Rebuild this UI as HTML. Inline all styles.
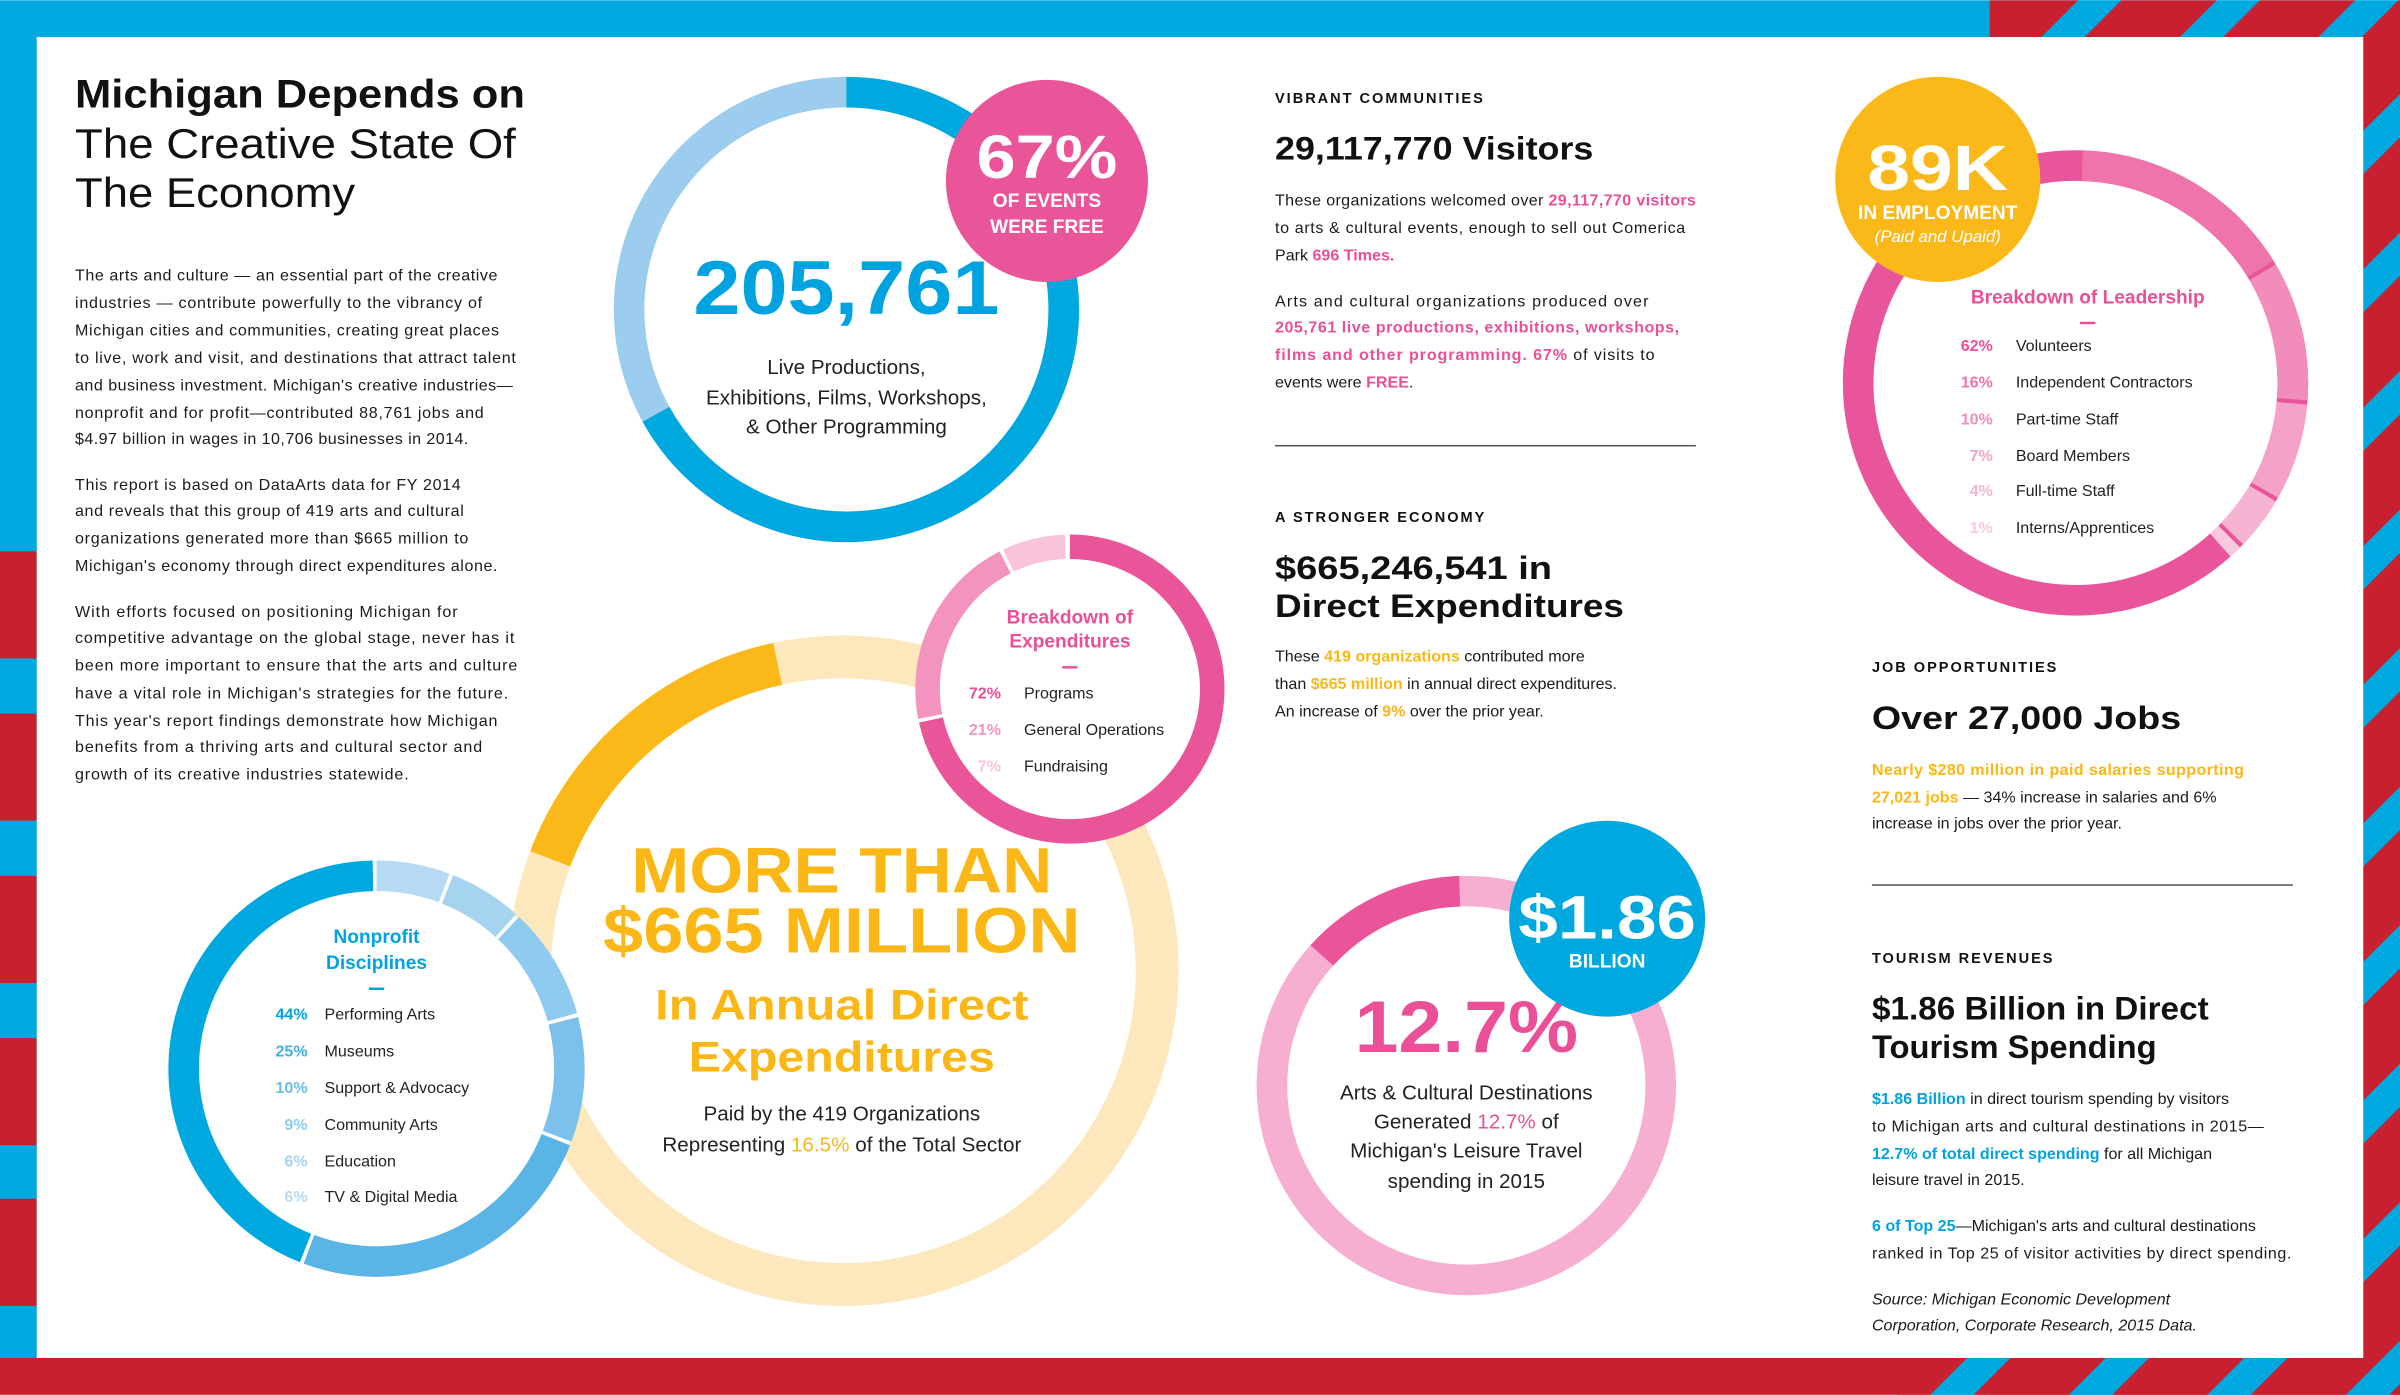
<!DOCTYPE html>
<html><head><meta charset="utf-8"><style>
html,body{margin:0;padding:0;background:#fff;}
svg{display:block}
text{font-family:"Liberation Sans",sans-serif;}
.b{font-weight:bold}
.p{font-size:10.5px;fill:#1a1a1a}
.pk{fill:#ea4f98;font-weight:bold}
.yl{fill:#fbb715;font-weight:bold}
.bl{fill:#00a3e0;font-weight:bold}
.h{font-size:9.5px;font-weight:bold;letter-spacing:1.3px;fill:#111}
.big{font-size:21px;font-weight:bold;fill:#111}
.row{font-size:10.5px;fill:#222}
</style></head><body>
<svg width="2400" height="1395" viewBox="0 0 1568 911" xmlns="http://www.w3.org/2000/svg">
<defs>
<pattern id="st" patternUnits="userSpaceOnUse" width="64" height="64" patternTransform="rotate(45)">
<rect width="64" height="64" fill="#c8202e"/><rect width="20" height="64" fill="#00a8e0"/>
</pattern>
</defs>
<rect width="1568" height="911" fill="#00a8e0"/>
<rect x="1300" y="0" width="268" height="911" fill="url(#st)"/>
<rect x="0" y="887" width="1568" height="24" fill="#c8202e"/>
<rect x="1240" y="887" width="328" height="24" fill="url(#st)"/>
<g fill="#c8202e">
<rect x="0" y="360" width="24" height="70"/><rect x="0" y="466" width="24" height="70"/>
<rect x="0" y="572" width="24" height="70"/><rect x="0" y="678" width="24" height="70"/>
<rect x="0" y="783" width="24" height="70"/>
</g>
<rect x="24" y="24" width="1520" height="863" fill="#fff"/>

<text x="49" y="70" class="b" font-size="26" fill="#111" textLength="294" lengthAdjust="spacingAndGlyphs">Michigan Depends on</text>
<text x="49" y="103" font-size="27" fill="#111" textLength="288" lengthAdjust="spacingAndGlyphs">The Creative State Of</text>
<text x="49" y="135" font-size="27" fill="#111" textLength="183" lengthAdjust="spacingAndGlyphs">The Economy</text>

<g class="p">
<text x="49" y="183" textLength="276">The arts and culture — an essential part of the creative</text>
<text x="49" y="201" textLength="266">industries — contribute powerfully to the vibrancy of</text>
<text x="49" y="219" textLength="277">Michigan cities and communities, creating great places</text>
<text x="49" y="237" textLength="288">to live, work and visit, and destinations that attract talent</text>
<text x="49" y="255" textLength="286">and business investment. Michigan's creative industries—</text>
<text x="49" y="273" textLength="267">nonprofit and for profit—contributed 88,761 jobs and</text>
<text x="49" y="290" textLength="257">$4.97 billion in wages in 10,706 businesses in 2014.</text>
<text x="49" y="320" textLength="252">This report is based on DataArts data for FY 2014</text>
<text x="49" y="337" textLength="254">and reveals that this group of 419 arts and cultural</text>
<text x="49" y="355" textLength="257">organizations generated more than $665 million to</text>
<text x="49" y="373" textLength="276">Michigan's economy through direct expenditures alone.</text>
<text x="49" y="403" textLength="250">With efforts focused on positioning Michigan for</text>
<text x="49" y="420" textLength="287">competitive advantage on the global stage, never has it</text>
<text x="49" y="438" textLength="289">been more important to ensure that the arts and culture</text>
<text x="49" y="456" textLength="283">have a vital role in Michigan's strategies for the future.</text>
<text x="49" y="474" textLength="276">This year's report findings demonstrate how Michigan</text>
<text x="49" y="491" textLength="266">benefits from a thriving arts and cultural sector and</text>
<text x="49" y="509" textLength="218">growth of its creative industries statewide.</text>
</g>

<g fill="none" stroke-width="20" transform="rotate(-90 553 202)">
<circle cx="553" cy="202" r="142" stroke="#9ccdee"/>
<circle cx="553" cy="202" r="142" stroke="#00a8e0" pathLength="100" stroke-dasharray="67 100"/>
</g>
<text x="553" y="205" text-anchor="middle" class="bl" font-size="50" textLength="200" lengthAdjust="spacingAndGlyphs">205,761</text>
<g font-size="13.5" fill="#222" text-anchor="middle">
<text x="553" y="244">Live Productions,</text>
<text x="553" y="264">Exhibitions, Films, Workshops,</text>
<text x="553" y="283">&amp; Other Programming</text>
</g>
<circle cx="684" cy="118" r="66" fill="#ea559a"/>
<text x="684" y="116" text-anchor="middle" class="b" font-size="40" fill="#fff" textLength="92" lengthAdjust="spacingAndGlyphs">67%</text>
<text x="684" y="135" text-anchor="middle" class="b" font-size="12.5" fill="#fff">OF EVENTS</text>
<text x="684" y="152" text-anchor="middle" class="b" font-size="12.5" fill="#fff">WERE FREE</text>

<g fill="none" stroke-width="28" transform="rotate(-90 551 634)">
<circle cx="551" cy="634" r="205" stroke="#fde7bd"/>
<circle cx="551" cy="634" r="205" stroke="#fbb919" pathLength="360" stroke-dasharray="57 360" stroke-dashoffset="-291"/>
</g>
<text x="550" y="583" text-anchor="middle" class="yl" font-size="42" textLength="275" lengthAdjust="spacingAndGlyphs">MORE THAN</text>
<text x="550" y="622" text-anchor="middle" class="yl" font-size="42" textLength="312" lengthAdjust="spacingAndGlyphs">$665 MILLION</text>
<text x="550" y="666" text-anchor="middle" class="yl" font-size="28" textLength="244" lengthAdjust="spacingAndGlyphs">In Annual Direct</text>
<text x="550" y="700" text-anchor="middle" class="yl" font-size="28" textLength="200" lengthAdjust="spacingAndGlyphs">Expenditures</text>
<text x="550" y="732" text-anchor="middle" font-size="13.5" fill="#222">Paid by the 419 Organizations</text>
<text x="550" y="752" text-anchor="middle" font-size="13.5" fill="#222">Representing <tspan fill="#fbb715">16.5%</tspan> of the Total Sector</text>

<circle cx="699" cy="450" r="100" fill="#fff"/>
<g fill="none" stroke-width="16" transform="rotate(-90 699 450)">
<circle cx="699" cy="450" r="93" stroke="#ea559a" pathLength="100" stroke-dasharray="71.6 100"/>
<circle cx="699" cy="450" r="93" stroke="#f394bf" pathLength="100" stroke-dasharray="20.6 100" stroke-dashoffset="-72"/>
<circle cx="699" cy="450" r="93" stroke="#f8c3db" pathLength="100" stroke-dasharray="6.6 100" stroke-dashoffset="-93"/>
</g>
<text x="699" y="407" text-anchor="middle" class="pk" font-size="12.5">Breakdown of</text>
<text x="699" y="423" text-anchor="middle" class="pk" font-size="12.5">Expenditures</text>
<rect x="694" y="435" width="10" height="1.6" fill="#ea4f98"/>
<g class="row">
<text x="654" y="456" text-anchor="end" class="pk">72%</text><text x="669" y="456">Programs</text>
<text x="654" y="480" text-anchor="end" font-weight="bold" fill="#f394bf">21%</text><text x="669" y="480">General Operations</text>
<text x="654" y="504" text-anchor="end" font-weight="bold" fill="#f8c3db">7%</text><text x="669" y="504">Fundraising</text>
</g>

<circle cx="246" cy="698" r="135" fill="#fff"/>
<g fill="none" stroke-width="20" transform="rotate(-90 246 698)">
<circle cx="246" cy="698" r="126" stroke="#b6daf2" pathLength="100" stroke-dasharray="5.7 100"/>
<circle cx="246" cy="698" r="126" stroke="#a6d3f0" pathLength="100" stroke-dasharray="5.7 100" stroke-dashoffset="-6"/>
<circle cx="246" cy="698" r="126" stroke="#8ecbef" pathLength="100" stroke-dasharray="8.7 100" stroke-dashoffset="-12"/>
<circle cx="246" cy="698" r="126" stroke="#7bc1ec" pathLength="100" stroke-dasharray="9.7 100" stroke-dashoffset="-21"/>
<circle cx="246" cy="698" r="126" stroke="#5ab4e6" pathLength="100" stroke-dasharray="24.7 100" stroke-dashoffset="-31"/>
<circle cx="246" cy="698" r="126" stroke="#00a8e0" pathLength="100" stroke-dasharray="43.7 100" stroke-dashoffset="-56"/>
</g>
<text x="246" y="616" text-anchor="middle" class="bl" font-size="12.5">Nonprofit</text>
<text x="246" y="633" text-anchor="middle" class="bl" font-size="12.5">Disciplines</text>
<rect x="241" y="645" width="10" height="1.6" fill="#00a3e0"/>
<g class="row">
<text x="201" y="666" text-anchor="end" class="bl">44%</text><text x="212" y="666">Performing Arts</text>
<text x="201" y="690" text-anchor="end" font-weight="bold" fill="#3fb0e6">25%</text><text x="212" y="690">Museums</text>
<text x="201" y="714" text-anchor="end" font-weight="bold" fill="#6bbde9">10%</text><text x="212" y="714">Support &amp; Advocacy</text>
<text x="201" y="738" text-anchor="end" font-weight="bold" fill="#8ecbef">9%</text><text x="212" y="738">Community Arts</text>
<text x="201" y="762" text-anchor="end" font-weight="bold" fill="#a6d3f0">6%</text><text x="212" y="762">Education</text>
<text x="201" y="785" text-anchor="end" font-weight="bold" fill="#b6daf2">6%</text><text x="212" y="785">TV &amp; Digital Media</text>
</g>

<g fill="none" stroke-width="20" transform="rotate(-90 958 709)">
<circle cx="958" cy="709" r="127" stroke="#f6afd0"/>
<circle cx="958" cy="709" r="127" stroke="#ea559a" pathLength="360" stroke-dasharray="46 360" stroke-dashoffset="-312"/>
</g>
<text x="958" y="687" text-anchor="middle" class="pk" font-size="48" textLength="146" lengthAdjust="spacingAndGlyphs">12.7%</text>
<g font-size="13.5" fill="#222" text-anchor="middle">
<text x="958" y="718">Arts &amp; Cultural Destinations</text>
<text x="958" y="737">Generated <tspan fill="#ea4f98">12.7%</tspan> of</text>
<text x="958" y="756">Michigan's Leisure Travel</text>
<text x="958" y="776">spending in 2015</text>
</g>
<circle cx="1050" cy="600" r="64" fill="#00a8e0"/>
<text x="1050" y="613" text-anchor="middle" class="b" font-size="40" fill="#fff" textLength="116" lengthAdjust="spacingAndGlyphs">$1.86</text>
<text x="1050" y="632" text-anchor="middle" class="b" font-size="12.5" fill="#fff">BILLION</text>

<text x="833" y="67" class="h">VIBRANT COMMUNITIES</text>
<text x="833" y="104" class="big" textLength="208" lengthAdjust="spacingAndGlyphs">29,117,770 Visitors</text>
<g class="p">
<text x="833" y="134" textLength="275">These organizations welcomed over <tspan class="pk">29,117,770 visitors</tspan></text>
<text x="833" y="152" textLength="268">to arts &amp; cultural events, enough to sell out Comerica</text>
<text x="833" y="170">Park <tspan class="pk">696 Times.</tspan></text>
<text x="833" y="200" textLength="244">Arts and cultural organizations produced over</text>
<text x="833" y="217" class="pk" textLength="264">205,761 live productions, exhibitions, workshops,</text>
<text x="833" y="235" textLength="248"><tspan class="pk">films and other programming.  67%</tspan> of visits to</text>
<text x="833" y="253">events were <tspan class="pk">FREE</tspan>.</text>
</g>
<rect x="833" y="290.5" width="275" height="1" fill="#555"/>
<text x="833" y="341" class="h">A STRONGER ECONOMY</text>
<text x="833" y="378" class="big" textLength="181" lengthAdjust="spacingAndGlyphs">$665,246,541 in</text>
<text x="833" y="403" class="big" textLength="228" lengthAdjust="spacingAndGlyphs">Direct Expenditures</text>
<g class="p">
<text x="833" y="432">These <tspan class="yl">419 organizations</tspan> contributed more</text>
<text x="833" y="450">than <tspan class="yl">$665 million</tspan> in annual direct expenditures.</text>
<text x="833" y="468">An increase of <tspan class="yl">9%</tspan> over the prior year.</text>
</g>

<g fill="none" stroke-width="20" transform="rotate(-90 1356 250)">
<circle cx="1356" cy="250" r="142" stroke="#e9559a"/>
<circle cx="1356" cy="250" r="142" stroke="#ef74ab" pathLength="100" stroke-dasharray="15.7 100" stroke-dashoffset="-0.5"/>
<circle cx="1356" cy="250" r="142" stroke="#f28cbb" pathLength="100" stroke-dasharray="9.7 100" stroke-dashoffset="-16.5"/>
<circle cx="1356" cy="250" r="142" stroke="#f4a2c7" pathLength="100" stroke-dasharray="6.7 100" stroke-dashoffset="-26.5"/>
<circle cx="1356" cy="250" r="142" stroke="#f6b3d2" pathLength="100" stroke-dasharray="3.7 100" stroke-dashoffset="-33.5"/>
<circle cx="1356" cy="250" r="142" stroke="#f9c8df" pathLength="100" stroke-dasharray="0.9 100" stroke-dashoffset="-37.5"/>
</g>
<circle cx="1266" cy="117" r="67" fill="#fbb919"/>
<text x="1266" y="124" text-anchor="middle" class="b" font-size="42" fill="#fff" textLength="92" lengthAdjust="spacingAndGlyphs">89K</text>
<text x="1266" y="143" text-anchor="middle" class="b" font-size="12.5" fill="#fff">IN EMPLOYMENT</text>
<text x="1266" y="158" text-anchor="middle" font-style="italic" font-size="11" fill="#fff">(Paid and Upaid)</text>
<text x="1364" y="198" text-anchor="middle" class="pk" font-size="12.5">Breakdown of Leadership</text>
<rect x="1359" y="210" width="10" height="1.6" fill="#ea4f98"/>
<g class="row">
<text x="1302" y="229" text-anchor="end" class="pk">62%</text><text x="1317" y="229">Volunteers</text>
<text x="1302" y="253" text-anchor="end" font-weight="bold" fill="#ef74ab">16%</text><text x="1317" y="253">Independent Contractors</text>
<text x="1302" y="277" text-anchor="end" font-weight="bold" fill="#f28cbb">10%</text><text x="1317" y="277">Part-time Staff</text>
<text x="1302" y="301" text-anchor="end" font-weight="bold" fill="#f4a2c7">7%</text><text x="1317" y="301">Board Members</text>
<text x="1302" y="324" text-anchor="end" font-weight="bold" fill="#f6b3d2">4%</text><text x="1317" y="324">Full-time Staff</text>
<text x="1302" y="348" text-anchor="end" font-weight="bold" fill="#f9c8df">1%</text><text x="1317" y="348">Interns/Apprentices</text>
</g>

<text x="1223" y="439" class="h">JOB OPPORTUNITIES</text>
<text x="1223" y="476" class="big" textLength="202" lengthAdjust="spacingAndGlyphs">Over 27,000 Jobs</text>
<g class="p">
<text x="1223" y="506" class="yl" textLength="243">Nearly $280 million in paid salaries supporting</text>
<text x="1223" y="524"><tspan class="yl">27,021 jobs</tspan> — 34% increase in salaries and 6%</text>
<text x="1223" y="541">increase in jobs over the prior year.</text>
</g>
<rect x="1223" y="577.5" width="275" height="1" fill="#555"/>
<text x="1223" y="629" class="h">TOURISM REVENUES</text>
<text x="1223" y="666" class="big" textLength="220" lengthAdjust="spacingAndGlyphs">$1.86 Billion in Direct</text>
<text x="1223" y="691" class="big" textLength="186" lengthAdjust="spacingAndGlyphs">Tourism Spending</text>
<g class="p">
<text x="1223" y="721"><tspan class="bl">$1.86 Billion</tspan> in direct tourism spending by visitors</text>
<text x="1223" y="739" textLength="256">to Michigan arts and cultural destinations in 2015—</text>
<text x="1223" y="757"><tspan class="bl">12.7% of total direct spending</tspan> for all Michigan</text>
<text x="1223" y="774">leisure travel in 2015.</text>
<text x="1223" y="804"><tspan class="bl">6 of Top 25</tspan>—Michigan's arts and cultural destinations</text>
<text x="1223" y="822" textLength="274">ranked in Top 25 of visitor activities by direct spending.</text>
<text x="1223" y="852" font-style="italic">Source:  Michigan Economic Development</text>
<text x="1223" y="869" font-style="italic">Corporation, Corporate Research, 2015 Data.</text>
</g>
</svg>
</body></html>
